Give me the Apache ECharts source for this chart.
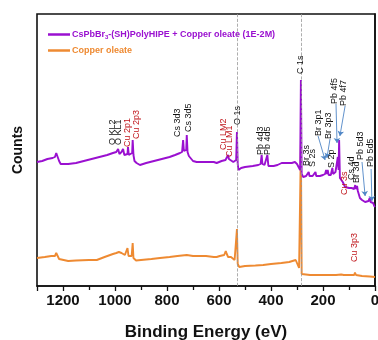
<!DOCTYPE html>
<html><head><meta charset="utf-8">
<script src="https://cdn.jsdelivr.net/npm/echarts@6/dist/echarts.min.js"></script>
<style>html,body{margin:0;padding:0;background:#fff}#c{width:378px;height:340px}</style>
</head><body><div id="c"></div>
<script>
var nameP = 'CsPbBr3-(SH)PolyHIPE + Copper oleate (1E-2M)';
var nameO = 'Copper oleate';
var xTicks = [0, 200, 400, 600, 800, 1000, 1200];
// [binding energy eV, counts (a.u.)]
var purple = [[1300,124],[1280,125],[1260,127],[1240,128],[1231,129],[1226,133],[1222,131],[1215,125],[1209,122],[1180,122],[1150,123],[1120,125],[1090,127],[1060,129],[1030,131],[1008,133],[995,134],[988,137],[983,132],[975,134],[969,137],[964,131],[958,133],[952,132],[950,139],[947,131],[940,130],[934,133],[932,146],[929,131],[925,125],[917,123],[904,121],[880,123],[850,125],[820,127],[790,129],[769,131],[750,133],[742,134],[738,146],[735,135],[730,133],[726,136],[724,151],[721,134],[716,130],[712,128],[700,125],[686,124],[660,124],[635,124],[620,124],[609,123],[590,125],[575,126],[568,128],[565,131],[562,127],[555,125],[545,124],[538,124],[534,126],[531,154],[528,122],[525,116],[515,118],[500,119],[470,120],[449,121],[440,122],[436,131],[433,122],[425,121],[418,122],[414,131],[410,120],[404,119],[390,120],[375,121],[359,123],[340,123],[320,123],[308,124],[300,122],[293,120],[288,116],[285,206],[282,112],[276,109],[265,110],[258,110],[255,114],[252,110],[240,110],[234,110],[229,114],[226,110],[212,110],[200,111],[192,112],[188,116],[185,112],[182,116],[178,111],[170,111],[166,113],[164,118],[161,112],[157,113],[152,114],[147,116],[143,129],[140,116],[138,146],[135,108],[128,106],[124,104],[122,103],[115,99],[100,98],[90,98],[80,97],[77,96],[76,101],[74,97],[70,98],[69,100],[66,95],[58,88],[50,86],[45,84],[38,84],[32,84],[25,85],[20,88],[17,84],[10,83],[7,83],[3,80],[0,79]];
var orange = [[1300,28],[1270,29],[1245,30],[1231,30],[1226,33],[1222,32],[1215,27],[1209,25.5],[1180,25],[1150,25.5],[1100,26],[1070,26],[1040,29],[1008,32],[995,33],[985,34],[981,36],[975,33],[968,32],[962,31],[955,32],[952,38],[948,30],[942,29],[936,30],[932,43],[929,28],[919,25.5],[900,26],[860,27],[827,28],[790,29],[760,30],[724,31],[700,30],[673,30],[650,30],[620,29],[609,29],[597,30],[580,31],[574,35],[570,32],[565,29],[558,27],[554,29],[550,27],[540,26],[534,27],[531,57],[528,22],[522,19],[500,20],[460,20.5],[430,21],[400,22],[360,23],[330,24],[305,26],[298,25],[292,18],[288,16],[285,141],[282,12],[276,11],[250,11],[200,11],[150,11],[130,11.5],[124,13],[120,11],[100,11],[80,11],[77,13.5],[73,11],[50,10],[20,9.5],[0,9]];
var refLines = [531, 285];
// peak labels: text, energy, base counts, colour
var annText = ['O KL2','O KL1','Cu 2p1','Cu 2p3','Cs 3d3','Cs 3d5','Cu LM2','Cu LM1','O 1s','C 1s','Pb 4d3','Pb 4d5','Br 3s','S 2s','Br 3p1','Br 3p3','S 2p','Pb 4f5','Pb 4f7','Cu 3s','Cs 4d','Br 3d','Pb 5d3','Pb 5d5','Cu 3p3'];
var annE = [1008,988,950,917,758,719,581,558,527,288,442,412,262,242,219,177,169,154,123,119,90,70,54,19,77];
var annY = [141,141,139,147,149,154,136,129,161,212,131,131,120,119,150,147,118,182,180,91,106,103,126,119,24];
var annRed = [0,0,1,1,0,0,1,1,0,0,0,0,0,0,0,0,0,0,0,1,0,0,0,0,1];
// arrows: [fromE, fromY, toE, toY]
var arrows = [[219,150,192,126],[173,147,185,128],[150,182,146,143],[115,180,135,150],[50,124,38,90],[15,117,12,85]];

var FF = '"Liberation Sans", Arial, sans-serif';
var chart = echarts.init(document.getElementById('c'));
var option = {
  animation: false,
  backgroundColor: '#fff',
  grid: {left: 37, right: 3, top: 14, bottom: 54, containLabel: false, outerBoundsMode: 'none',
    show: true, borderColor: '#111', borderWidth: 1.6, backgroundColor: 'transparent'},
  legend: {
    orient: 'vertical', left: 43, top: 25, itemWidth: 22, itemHeight: 2.5, itemGap: 6, icon: 'rect',
    data: [
      {name: nameP, textStyle: {color: '#9A10D0'}},
      {name: nameO, textStyle: {color: '#EE8A32'}}
    ],
    textStyle: {fontSize: 9, fontWeight: 'bold', fontFamily: FF, padding: [0,0,0,-3],
      rich: {s: {fontSize: 6, fontWeight: 'bold', fontFamily: FF, padding: [5,0,0,0]}}},
    formatter: function (n) { return n === nameP ? 'CsPbBr{s|3}-(SH)PolyHIPE + Copper oleate (1E-2M)' : n; }
  },
  xAxis: {
    type: 'value', inverse: true, min: 0, max: 1300, interval: 200,
    name: 'Binding Energy (eV)', nameLocation: 'middle', nameGap: 38,
    nameTextStyle: {fontSize: 17, fontWeight: 'bold', color: '#111', fontFamily: FF},
    axisLine: {lineStyle: {color: '#111', width: 1.6}},
    axisTick: {show: true, inside: false, length: 5, lineStyle: {color: '#111', width: 1.3}},
    minorTick: {show: true, splitNumber: 2, length: 4, lineStyle: {color: '#111', width: 1.3}},
    splitLine: {show: false},
    axisLabel: {fontSize: 15, fontWeight: 'bold', color: '#111', fontFamily: FF, margin: 7, showMaxLabel: false, hideOverlap: false,
      formatter: function (v) { return xTicks.indexOf(v) >= 0 ? String(v) : ''; }}
  },
  yAxis: {
    type: 'value', min: 0, max: 272,
    name: 'Counts', nameLocation: 'middle', nameGap: 12,
    nameTextStyle: {fontSize: 14, fontWeight: 'bold', color: '#111', fontFamily: FF},
    axisLine: {lineStyle: {color: '#111', width: 1.6}},
    axisTick: {show: false}, axisLabel: {show: false}, splitLine: {show: false}
  },
  series: [
    {name: nameO, type: 'line', data: orange, symbol: 'none', lineStyle: {color: '#EE8A32', width: 1.9}, itemStyle: {color: '#EE8A32'}, z: 2},
    {name: nameP, type: 'line', data: purple, symbol: 'none', lineStyle: {color: '#9A10D0', width: 1.9}, itemStyle: {color: '#9A10D0'}, z: 3},
    {name: 'ref', type: 'line', data: [], z: 1,
      markLine: {silent: true, symbol: ['none','none'], label: {show: false},
        lineStyle: {color: '#999', type: 'dashed', width: 0.8},
        data: refLines.map(function (v) { return {xAxis: v}; })}},
    {name: 'arrows', type: 'line', data: [], z: 4,
      markLine: {silent: true, symbol: ['none','arrow'], symbolSize: 5, label: {show: false},
        lineStyle: {color: '#4F86C6', type: 'solid', width: 0.9},
        data: arrows.map(function (a) { return [{coord: [a[0], a[1]]}, {coord: [a[2], a[3]]}]; })}}
  ]
};
chart.setOption(option);
var g = [];
for (var i = 0; i < annText.length; i++) {
  var p = chart.convertToPixel({gridIndex: 0}, [annE[i], annY[i]]);
  g.push({type: 'text', x: p[0], y: p[1], rotation: Math.PI / 2, z: 10,
    style: {text: annText[i], fill: annRed[i] ? '#C0161C' : '#111', font: '9px ' + FF,
      align: 'left', verticalAlign: 'middle', textAlign: 'left', textVerticalAlign: 'middle'}});
}
chart.setOption({graphic: g});
</script></body></html>
